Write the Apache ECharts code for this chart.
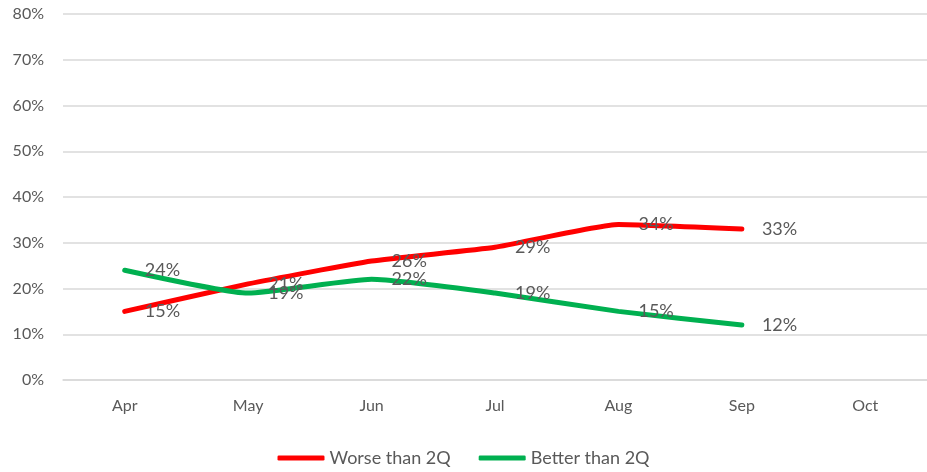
<!DOCTYPE html>
<html>
<head>
<meta charset="utf-8">
<script src="https://cdn.jsdelivr.net/npm/echarts@6/dist/echarts.min.js"></script>
<style>
  html, body { margin: 0; padding: 0; background: #fff; }
  #main { width: 927px; height: 472px; }
</style>
</head>
<body>
<div id="main"></div>
<script>
var months = ['Apr', 'May', 'Jun', 'Jul', 'Aug', 'Sep', 'Oct'];
var worse = [15, 21, 26, 29, 34, 33, null];
var better = [24, 19, 22, 19, 15, 12, null];

var myChart = echarts.init(document.getElementById('main'));
var txt = '#595959';
var fnt = 'Lato, "Open Sans", sans-serif';

option = {
    animation: false,
    textStyle: { fontFamily: fnt },
    grid: { left: 63, right: -4, top: 14, bottom: 92 },
    legend: {
        bottom: 0,
        left: 'center',
        itemWidth: 47,
        itemHeight: 5,
        itemGap: 28,
        textStyle: { color: txt, fontSize: 18, fontFamily: fnt },
        data: [
            { name: 'Worse than 2Q', icon: 'roundRect' },
            { name: 'Better than 2Q', icon: 'roundRect' }
        ]
    },
    xAxis: {
        type: 'category',
        data: months,
        boundaryGap: true,
        axisLine: { lineStyle: { color: '#d9d9d9', width: 1.5 } },
        axisTick: { show: false },
        axisLabel: { color: txt, fontSize: 16, margin: 18 }
    },
    yAxis: {
        type: 'value',
        min: 0,
        max: 80,
        interval: 10,
        axisLine: { show: false },
        axisTick: { show: false },
        splitLine: { lineStyle: { color: '#d9d9d9', width: 1.5 } },
        axisLabel: { color: txt, fontSize: 16, margin: 19, formatter: '{value}%' }
    },
    series: [{
        name: 'Worse than 2Q',
        type: 'line',
        data: worse,
        smooth: 0.15,
        symbol: 'circle',
        symbolSize: 0.1,
        lineStyle: { color: '#ff0000', width: 5, cap: 'round' },
        itemStyle: { color: '#ff0000' },
        label: {
            show: true, position: 'right', distance: 20,
            color: txt, fontSize: 18, formatter: '{c}%'
        }
    }, {
        name: 'Better than 2Q',
        type: 'line',
        data: better,
        smooth: 0.15,
        symbol: 'circle',
        symbolSize: 0.1,
        lineStyle: { color: '#00b050', width: 5, cap: 'round' },
        itemStyle: { color: '#00b050' },
        label: {
            show: true, position: 'right', distance: 20,
            color: txt, fontSize: 18, formatter: '{c}%'
        }
    }]
};

myChart.setOption(option);
</script>
</body>
</html>
